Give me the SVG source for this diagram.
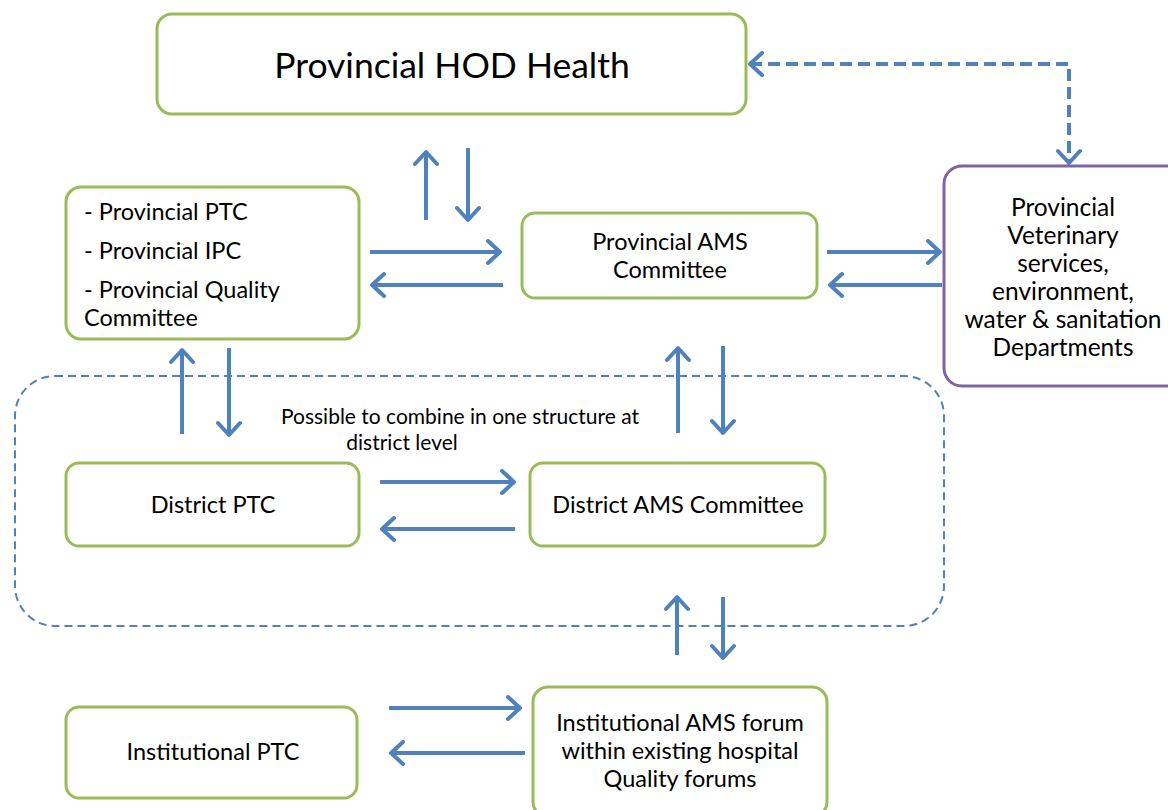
<svg xmlns="http://www.w3.org/2000/svg" width="1168" height="810" viewBox="0 0 1168 810">
<style>
.g{fill:#fff;stroke:#9BBB59;stroke-width:3}
.p{fill:#fff;stroke:#8064A2;stroke-width:3}
.t{font-family:Lato,"Liberation Sans",sans-serif;fill:#000}
.b{font-size:23.5px}
.v{font-size:24.5px}
.c{text-anchor:middle}
.a{fill:none;stroke:#4F81BD;stroke-width:4;marker-end:url(#ah)}
.d{fill:none;stroke:#4F81BD;stroke-width:4;stroke-dasharray:12 6;marker-end:url(#ah);marker-start:url(#ah)}
</style>
<defs>
<marker id="ah" markerUnits="userSpaceOnUse" markerWidth="26" markerHeight="26" viewBox="0 0 26 26" refX="21" refY="13" orient="auto-start-reverse">
<path d="M9,2 L21,13 L9,24" fill="none" stroke="#4F81BD" stroke-width="4" stroke-linecap="round" stroke-linejoin="round"/>
</marker>
</defs>
<rect width="1168" height="810" fill="#fff"/>
<g id="district-container">
<rect x="15" y="376" width="929" height="250" rx="40" fill="none" stroke="#4F81BD" stroke-width="2" stroke-dasharray="8 5"/>
<text class="t c" x="460" y="424" font-size="21">Possible to combine in one structure at</text>
<text class="t c" x="402" y="450" font-size="21">district level</text>
</g>
<g id="hod">
<rect class="g" x="157" y="14" width="589" height="100" rx="15"/>
<text class="t c" x="452" y="78" font-size="35.5">Provincial HOD Health</text>
</g>
<g id="prov-committees">
<rect class="g" x="66" y="187" width="293" height="152" rx="15"/>
<text class="t b" x="84" y="220">- Provincial PTC</text>
<text class="t b" x="84" y="259">- Provincial IPC</text>
<text class="t b" x="84" y="298">- Provincial Quality</text>
<text class="t b" x="84" y="326">Committee</text>
</g>
<g id="prov-ams">
<rect class="g" x="522" y="213" width="295" height="85" rx="13"/>
<text class="t c b" x="670" y="250">Provincial AMS</text>
<text class="t c b" x="670" y="278">Committee</text>
</g>
<g id="vet">
<rect class="p" x="944" y="166" width="240" height="220" rx="18"/>
<text class="t c v" x="1063" y="216">Provincial</text>
<text class="t c v" x="1063" y="244">Veterinary</text>
<text class="t c v" x="1063" y="272">services,</text>
<text class="t c v" x="1063" y="300">environment,</text>
<text class="t c v" x="1063" y="328">water &amp; sanitation</text>
<text class="t c v" x="1063" y="356">Departments</text>
</g>
<g id="district-ptc">
<rect class="g" x="66" y="463" width="293" height="83" rx="13"/>
<text class="t c b" x="213" y="513">District PTC</text>
</g>
<g id="district-ams">
<rect class="g" x="530" y="463" width="295" height="83" rx="13"/>
<text class="t c b" x="678" y="513">District AMS Committee</text>
</g>
<g id="inst-ptc">
<rect class="g" x="66" y="707" width="291" height="91" rx="13"/>
<text class="t c b" x="213" y="760">Institutional PTC</text>
</g>
<g id="inst-ams">
<rect class="g" x="533" y="687" width="294" height="130" rx="15"/>
<text class="t c b" x="680" y="731">Institutional AMS forum</text>
<text class="t c b" x="680" y="759">within existing hospital</text>
<text class="t c b" x="680" y="787">Quality forums</text>
</g>
<g id="connectors">
<path class="d" d="M750,64 H1069 V163"/>
<path class="a" d="M426,220 V152"/>
<path class="a" d="M468,148 V220"/>
<path class="a" d="M370,252 H500"/>
<path class="a" d="M503,285 H372"/>
<path class="a" d="M827,252 H940"/>
<path class="a" d="M942,285 H830"/>
<path class="a" d="M182,434 V350"/>
<path class="a" d="M229,348 V435"/>
<path class="a" d="M678,433 V348"/>
<path class="a" d="M723,346 V433"/>
<path class="a" d="M380,482 H514"/>
<path class="a" d="M515,529 H382"/>
<path class="a" d="M677,655 V597"/>
<path class="a" d="M723,597 V658"/>
<path class="a" d="M389,708 H520"/>
<path class="a" d="M525,753 H391"/>
</g>
</svg>
